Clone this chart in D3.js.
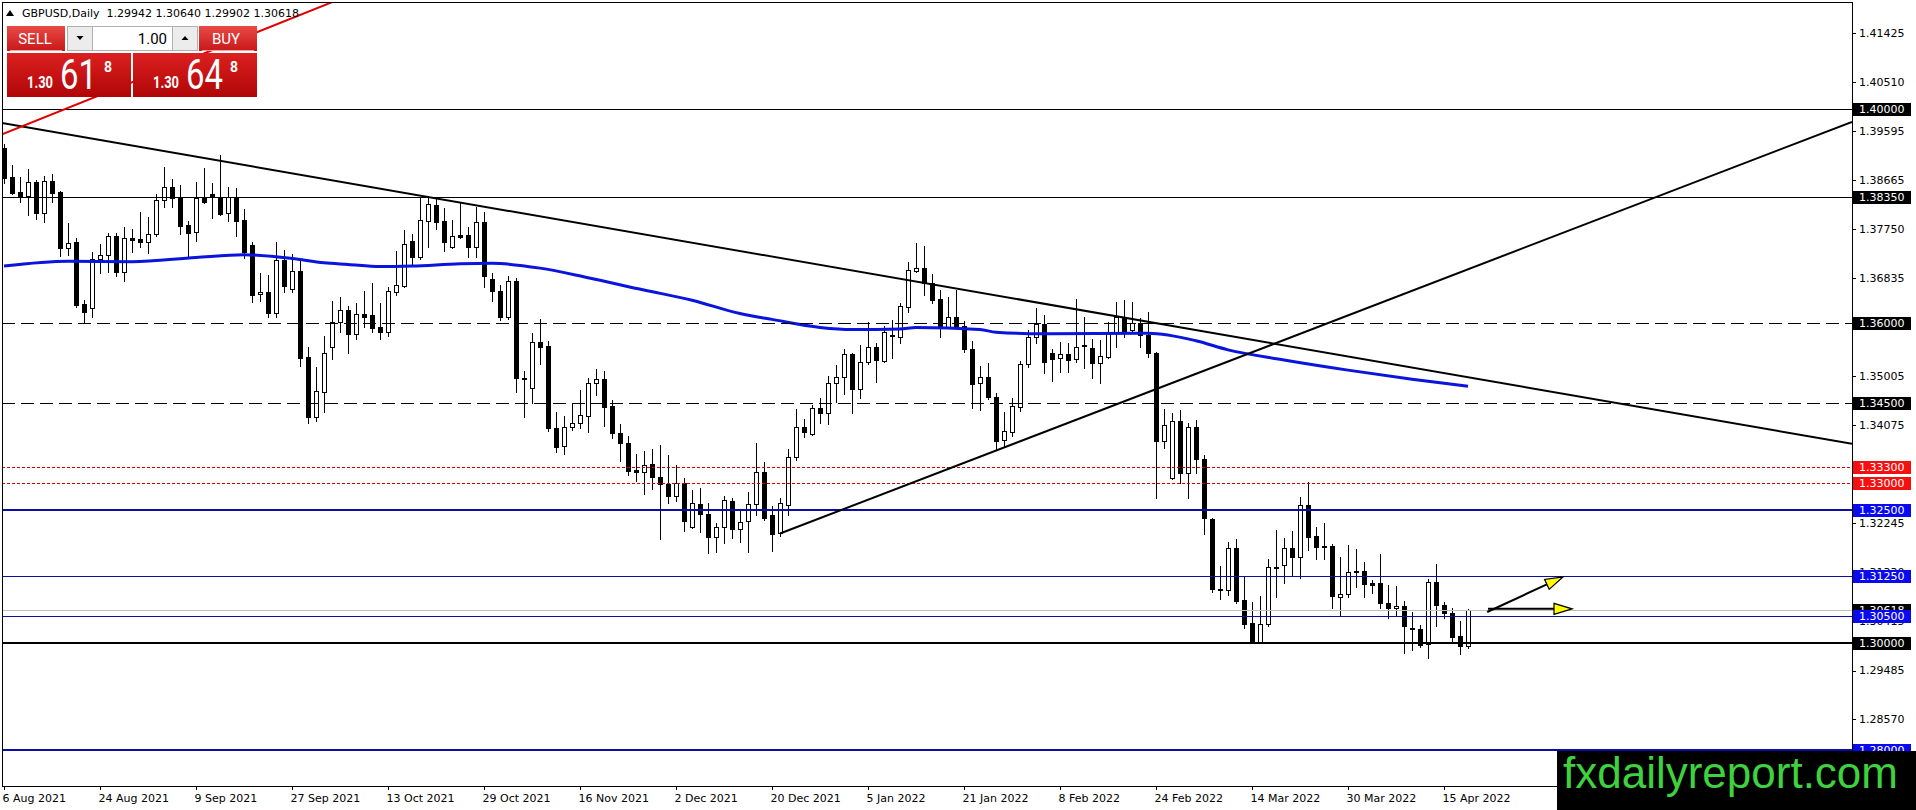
<!DOCTYPE html>
<html><head><meta charset="utf-8">
<script src="https://cdn.jsdelivr.net/npm/d3@7"></script>
<style>body{margin:0;background:#fff;overflow:hidden}svg{display:block}</style>
</head><body>
<svg id="c" width="1916" height="810"></svg>
<script>
// ---------- DATA ----------
const dateLabels = ["6 Aug 2021","24 Aug 2021","9 Sep 2021","27 Sep 2021","13 Oct 2021","29 Oct 2021","16 Nov 2021","2 Dec 2021","20 Dec 2021","5 Jan 2022","21 Jan 2022","8 Feb 2022","24 Feb 2022","14 Mar 2022","30 Mar 2022","15 Apr 2022"];
const dateLabelBars = [0,12,24,36,48,60,72,84,96,108,120,132,144,156,168,180];

const open = [1.3927,1.3873,1.3845,1.3837,1.3863,1.3805,1.3865,1.3845,1.3740,1.3751,
1.3635,1.3627,1.3719,1.3727,1.3762,1.3695,1.3758,1.3757,1.3751,1.3766,
1.3830,1.3854,1.3833,1.3783,1.3770,1.3833,1.3841,1.3835,1.3805,1.3835,
1.3792,1.3745,1.3654,1.3657,1.3618,1.3717,1.3663,1.3697,1.3536,1.3423,
1.3470,1.3554,1.3601,1.3624,1.3579,1.3616,1.3614,1.3592,1.3582,1.3657,
1.3669,1.3753,1.3723,1.3790,1.3820,1.3790,1.3742,1.3764,1.3764,1.3742,
1.3788,1.3682,1.3659,1.3610,1.3678,1.3496,1.3478,1.3564,1.3556,1.3403,
1.3369,1.3404,1.3412,1.3425,1.3487,1.3494,1.3444,1.3393,1.3375,1.3324,
1.3320,1.3335,1.3311,1.3298,1.3275,1.3300,1.3217,1.3260,1.3242,1.3198,
1.3217,1.3266,1.3213,1.3228,1.3260,1.3320,1.3240,1.3206,1.3258,1.3348,
1.3404,1.3391,1.3440,1.3431,1.3487,1.3498,1.3541,1.3476,1.3526,1.3554,
1.3528,1.3577,1.3573,1.3629,1.3697,1.3702,1.3674,1.3644,1.3592,1.3610,
1.3594,1.3551,1.3487,1.3498,1.3461,1.3380,1.3395,1.3442,1.3522,1.3573,
1.3597,1.3543,1.3534,1.3541,1.3532,1.3558,1.3552,1.3524,1.3536,1.3581,
1.3610,1.3586,1.3599,1.3577,1.3543,1.3378,1.3309,1.3416,1.3318,1.3404,
1.3345,1.3232,1.3101,1.3099,1.3178,1.3081,1.3037,1.3002,1.3036,1.3142,
1.3146,1.3178,1.3161,1.3258,1.3200,1.3182,1.3182,1.3086,1.3092,1.3135,
1.3135,1.3112,1.3112,1.3075,1.3066,1.3069,1.3028,1.3026,1.2998,1.3114,
1.3071,1.3056,1.3013,1.29942];
const high = [1.3934,1.3895,1.3873,1.3888,1.3867,1.3875,1.3878,1.3846,1.3787,1.3758,
1.3642,1.3732,1.3747,1.3768,1.3768,1.3779,1.3775,1.3807,1.3798,1.3841,
1.3891,1.3869,1.3858,1.3790,1.3863,1.3890,1.3861,1.3914,1.3854,1.3852,
1.3813,1.3751,1.3693,1.3689,1.3751,1.3736,1.3728,1.3717,1.3554,1.3517,
1.3575,1.3640,1.3648,1.3631,1.3637,1.3659,1.3674,1.3637,1.3667,1.3734,
1.3773,1.3766,1.3835,1.3837,1.3833,1.3815,1.3792,1.3826,1.3779,1.3816,
1.3807,1.3693,1.3670,1.3687,1.3684,1.3509,1.3581,1.3607,1.3566,1.3433,
1.3425,1.3449,1.3474,1.3496,1.3513,1.3509,1.3455,1.3410,1.3388,1.3354,
1.3360,1.3363,1.3371,1.3352,1.3333,1.3309,1.3287,1.3290,1.3262,1.3225,
1.3275,1.3272,1.3249,1.3283,1.3375,1.3339,1.3257,1.3272,1.3363,1.3438,
1.3419,1.3446,1.3459,1.3500,1.3521,1.3551,1.3543,1.3558,1.3601,1.3562,
1.3594,1.3605,1.3637,1.3713,1.3749,1.3743,1.3691,1.3661,1.3648,1.3661,
1.3603,1.3566,1.3519,1.3524,1.3468,1.3433,1.3459,1.3528,1.3586,1.3627,
1.3614,1.3551,1.3564,1.3562,1.3644,1.3610,1.3569,1.3567,1.3601,1.3639,
1.3642,1.3639,1.3609,1.3620,1.3545,1.3438,1.3431,1.3436,1.3412,1.3418,
1.3352,1.3234,1.3144,1.3189,1.3195,1.3125,1.3077,1.3088,1.3157,1.3212,
1.3197,1.3210,1.3273,1.3301,1.3217,1.3225,1.3185,1.3161,1.3184,1.3176,
1.3152,1.3118,1.3167,1.3109,1.3107,1.3079,1.3058,1.3034,1.3120,1.3148,
1.3077,1.3066,1.3041,1.30640];
const low = [1.3861,1.3841,1.3826,1.3801,1.3794,1.3788,1.3826,1.3725,1.3727,1.3629,
1.3599,1.3610,1.3693,1.3695,1.3687,1.3678,1.3732,1.3742,1.3730,1.3762,
1.3816,1.3816,1.3766,1.3725,1.3753,1.3824,1.3796,1.3801,1.3790,1.3762,
1.3721,1.3639,1.3640,1.3610,1.3610,1.3657,1.3657,1.3519,1.3412,1.3416,
1.3433,1.3532,1.3582,1.3543,1.3569,1.3592,1.3582,1.3569,1.3575,1.3652,
1.3667,1.3708,1.3719,1.3742,1.3775,1.3734,1.3740,1.3758,1.3723,1.3723,
1.3667,1.3640,1.3605,1.3607,1.3470,1.3423,1.3449,1.3522,1.3397,1.3358,
1.3354,1.3399,1.3403,1.3395,1.3464,1.3406,1.3384,1.3341,1.3315,1.3303,
1.3279,1.3288,1.3195,1.3262,1.3266,1.3210,1.3215,1.3208,1.3169,1.3170,
1.3187,1.3197,1.3189,1.3170,1.3240,1.3230,1.3172,1.3200,1.3240,1.3343,
1.3386,1.3390,1.3412,1.3410,1.3451,1.3466,1.3431,1.3459,1.3522,1.3489,
1.3526,1.3534,1.3562,1.3620,1.3695,1.3652,1.3637,1.3573,1.3590,1.3590,
1.3545,1.3440,1.3436,1.3457,1.3361,1.3367,1.3388,1.3434,1.3517,1.3562,
1.3506,1.3491,1.3507,1.3507,1.3526,1.3515,1.3496,1.3487,1.3534,1.3554,
1.3573,1.3582,1.3554,1.3536,1.3272,1.3365,1.3307,1.3300,1.3272,1.3318,
1.3204,1.3095,1.3082,1.3090,1.3075,1.3028,1.3000,1.3000,1.3032,1.3086,
1.3112,1.3125,1.3122,1.3174,1.3157,1.3157,1.3066,1.3052,1.3086,1.3105,
1.3086,1.3094,1.3066,1.3047,1.3052,1.2981,1.2987,1.2993,1.2972,1.3032,
1.3047,1.3002,1.2979,1.29902];
const close = [1.3871,1.3843,1.3837,1.3863,1.3805,1.3865,1.3843,1.3740,1.3749,1.3633,
1.3620,1.3719,1.3727,1.3762,1.3695,1.3758,1.3755,1.3751,1.3766,1.3830,
1.3854,1.3833,1.3781,1.3768,1.3833,1.3826,1.3837,1.3803,1.3835,1.3790,
1.3732,1.3652,1.3657,1.3618,1.3717,1.3669,1.3697,1.3534,1.3423,1.3472,
1.3543,1.3601,1.3624,1.3579,1.3616,1.3610,1.3590,1.3582,1.3659,1.3670,
1.3747,1.3723,1.3792,1.3822,1.3788,1.3751,1.3762,1.3760,1.3742,1.3788,
1.3687,1.3659,1.3610,1.3678,1.3496,1.3494,1.3564,1.3554,1.3403,1.3367,
1.3404,1.3412,1.3427,1.3487,1.3494,1.3442,1.3393,1.3375,1.3322,1.3320,
1.3333,1.3311,1.3298,1.3275,1.3300,1.3228,1.3262,1.3242,1.3198,1.3217,
1.3268,1.3213,1.3227,1.3260,1.3320,1.3234,1.3204,1.3262,1.3348,1.3404,
1.3395,1.3440,1.3431,1.3487,1.3498,1.3541,1.3476,1.3526,1.3554,1.3530,
1.3582,1.3575,1.3631,1.3699,1.3702,1.3674,1.3642,1.3592,1.3610,1.3594,
1.3551,1.3485,1.3498,1.3461,1.3378,1.3397,1.3444,1.3522,1.3573,1.3597,
1.3526,1.3532,1.3541,1.3530,1.3554,1.3556,1.3524,1.3537,1.3581,1.3610,
1.3584,1.3599,1.3577,1.3543,1.3378,1.3408,1.3416,1.3318,1.3404,1.3345,
1.3234,1.3101,1.3099,1.3178,1.3079,1.3036,1.3002,1.3036,1.3142,1.3140,
1.3178,1.3161,1.3258,1.3198,1.3180,1.3180,1.3088,1.3092,1.3133,1.3133,
1.3110,1.3109,1.3075,1.3066,1.3069,1.3032,1.3026,1.2996,1.3114,1.3071,
1.3056,1.3011,1.2994,1.30618];

// moving average (bar index, value)
const maBars   = [0,8,16,24,30,36,40,43,47,51,57,61,67,73,80,86,92,96,102,106,112,114,122,124,130,143,149,153,160,168,176,183];
const maValues = [1.3706,1.3715,1.3714,1.3722,1.3727,1.3720,1.3712,1.3709,1.3705,1.3706,1.3710,1.3711,1.3702,1.3684,1.3661,1.3642,1.3617,1.3606,1.3591,1.3587,1.3588,1.3591,1.3587,1.3582,1.3579,1.3580,1.3566,1.3549,1.3530,1.3511,1.3494,1.3481];

const priceTicks = [1.41425,1.40510,1.39595,1.38665,1.37750,1.36835,1.35005,1.34075,1.32245,1.31330,1.30415,1.29485,1.28570];
const levelPrices = [1.40000,1.38350,1.36000,1.34500,1.33300,1.33000,1.32500,1.31250,1.30618,1.30500,1.30000,1.28000];
const levelKinds  = ["solid","solid","dash","dash","redDot","redDot","blueThick","blueThin","current","blueThin","blackThick","blueThick"];

// trend lines: [bar1, price1, bar2, price2]
const trendDown  = [0, 1.3973, 231, 1.3373];
const trendUp    = [97, 1.3205, 231, 1.3976];
const trendRed   = [-0.5, 1.3951, 39.5, 1.4191];
// arrows: [bar1, price1, bar2, price2]
const arrowUp    = [185.4, 1.3058, 194.9, 1.3124];
const arrowFlat  = [185.5, 1.3064, 196.0, 1.3064];

const header = "GBPUSD,Daily  1.29942 1.30640 1.29902 1.30618";
const sellBig = ["1.30","61","8"], buyBig = ["1.30","64","8"], lotText = "1.00";

// ---------- DRAW ----------
const svg = d3.select("#c");
const L = 2, T = 3, R = 1852, B = 786;
const x = d3.scaleLinear().domain([0, 231]).range([4, 1852]);
const y = d3.scaleLinear().domain([1.4, 1.3]).range([109, 643]);
const AX = "DejaVu Sans, Verdana, sans-serif";

svg.append("rect").attr("width",1916).attr("height",810).attr("fill","#fff");
const defs = svg.append("defs");
defs.append("clipPath").attr("id","clip").append("rect").attr("x",L+0.5).attr("y",T).attr("width",R-L-0.5).attr("height",B-T);

const plot = svg.append("g").attr("clip-path","url(#clip)");

// candles
const N = close.length;
const bars = d3.range(N).map(i => ({i, o:open[i], h:high[i], l:low[i], c:close[i]}));
plot.append("g").selectAll("line").data(bars).join("line")
  .attr("x1", d => Math.round(x(d.i))+0.5).attr("x2", d => Math.round(x(d.i))+0.5)
  .attr("y1", d => Math.round(y(d.h))).attr("y2", d => Math.round(y(d.l))+1)
  .attr("stroke","#000").attr("stroke-width",1);
plot.append("g").selectAll("rect").data(bars).join("rect")
  .each(function(d){
    const cx = Math.round(x(d.i));
    const top = Math.round(y(Math.max(d.o,d.c))), bot = Math.round(y(Math.min(d.o,d.c)));
    const s = d3.select(this);
    if (d.c >= d.o) {
      s.attr("x",cx-1.5).attr("y",top+0.5).attr("width",4).attr("height",Math.max(0,bot-top))
       .attr("fill","#fff").attr("stroke","#000").attr("stroke-width",1);
    } else {
      s.attr("x",cx-2).attr("y",top).attr("width",5).attr("height",Math.max(1,bot-top+1)).attr("fill","#000");
    }
  });

// moving average
const maPts = maBars.map((b,k)=>({b, v:maValues[k]}));
plot.append("path").datum(maPts)
  .attr("d", d3.line().x(d=>x(d.b)).y(d=>y(d.v)).curve(d3.curveMonotoneX))
  .attr("fill","none").attr("stroke","#0a14dc").attr("stroke-width",3);

// horizontal levels
const styles = {
  solid:{c:"#000",w:1,d:null,bg:"#000"},
  dash:{c:"#000",w:1,d:"13,6",bg:"#000"},
  redDot:{c:"#d00000",w:1,d:"3,2",bg:"#f51010"},
  blueThick:{c:"#0c0ca8",w:2,d:null,bg:"#0a0af0"},
  blueThin:{c:"#0c0ca8",w:1,d:null,bg:"#0a0af0"},
  current:{c:"#c0c0c0",w:1,d:null,bg:"#000"},
  blackThick:{c:"#000",w:2,d:null,bg:"#000"}
};
const levels = levelPrices.map((p,k)=>({p, s:styles[levelKinds[k]]}));
plot.append("g").selectAll("line").data(levels).join("line")
  .attr("x1",L).attr("x2",R)
  .attr("y1",d=> d.s.w===1 ? Math.round(y(d.p))+0.5 : Math.round(y(d.p)))
  .attr("y2",d=> d.s.w===1 ? Math.round(y(d.p))+0.5 : Math.round(y(d.p)))
  .attr("stroke",d=>d.s.c).attr("stroke-width",d=>d.s.w)
  .attr("stroke-dasharray",d=>d.s.d);

// trend lines
function extLine(t, leftExtend){
  const X1=x(t[0]),Y1=y(t[1]),X2=x(t[2]),Y2=y(t[3]);
  const m=(Y2-Y1)/(X2-X1);
  const xa = leftExtend ? L : X1, xb = R;
  return [[xa, Y1+m*(xa-X1)],[xb, Y1+m*(xb-X1)]];
}
const segs = [
  {p:extLine(trendDown,true), c:"#000", w:2},
  {p:extLine(trendUp,false), c:"#000", w:2},
  {p:extLine(trendRed,true), c:"#e00000", w:2}
];
plot.append("g").selectAll("line").data(segs).join("line")
  .attr("x1",d=>d.p[0][0]).attr("y1",d=>d.p[0][1]).attr("x2",d=>d.p[1][0]).attr("y2",d=>d.p[1][1])
  .attr("stroke",d=>d.c).attr("stroke-width",d=>d.w);

// arrows
function drawArrow(a){
  const X1=x(a[0]),Y1=y(a[1]),X2=x(a[2]),Y2=y(a[3]);
  const ang=Math.atan2(Y2-Y1,X2-X1), len=18, hw=5.5;
  const bx=X2-len*Math.cos(ang), by=Y2-len*Math.sin(ang);
  plot.append("line").attr("x1",X1).attr("y1",Y1).attr("x2",bx).attr("y2",by).attr("stroke","#000").attr("stroke-width",2);
  const px=-Math.sin(ang)*hw, py=Math.cos(ang)*hw;
  plot.append("path").attr("d",`M${X2},${Y2}L${bx+px},${by+py}L${bx-px},${by-py}Z`)
    .attr("fill","#ffff00").attr("stroke","#000").attr("stroke-width",1.2).attr("stroke-linejoin","miter");
}
drawArrow(arrowUp); drawArrow(arrowFlat);

// frame
svg.append("rect").attr("x",L+0.5).attr("y",T-0.5).attr("width",R-L).attr("height",B-T+1)
  .attr("fill","none").attr("stroke","#000").attr("stroke-width",1);

// price axis ticks + labels
const ay = svg.append("g");
ay.selectAll("line").data(priceTicks).join("line")
  .attr("x1",R).attr("x2",R+4).attr("y1",d=>Math.round(y(d))+0.5).attr("y2",d=>Math.round(y(d))+0.5)
  .attr("stroke","#000");
ay.selectAll("text").data(priceTicks).join("text")
  .attr("x",R+7).attr("y",d=>y(d)).attr("dy","0.36em")
  .attr("font-family",AX).attr("font-size",11).attr("fill","#000")
  .text(d=>d.toFixed(5));

// level labels
const lg = svg.append("g");
levels.forEach(d=>{
  const yy=Math.round(y(d.p));
  lg.append("rect").attr("x",R+1).attr("y",yy-6).attr("width",58).attr("height",13).attr("fill",d.s.bg);
  lg.append("text").attr("x",R+7).attr("y",yy).attr("dy","0.36em")
    .attr("font-family",AX).attr("font-size",11).attr("fill","#fff").text(d.p.toFixed(5));
});

// date axis
const ax = svg.append("g");
ax.selectAll("line").data(dateLabelBars).join("line")
  .attr("x1",d=>Math.round(x(d))+0.5).attr("x2",d=>Math.round(x(d))+0.5)
  .attr("y1",B).attr("y2",B+4).attr("stroke","#000");
ax.selectAll("text").data(dateLabelBars).join("text")
  .attr("x",d=>x(d)-1.5).attr("y",802)
  .attr("font-family",AX).attr("font-size",11).attr("fill","#000")
  .text((d,k)=>dateLabels[k]);

// watermark box
svg.append("rect").attr("x",1557).attr("y",751).attr("width",359).attr("height",59).attr("fill","#000");
svg.append("text").attr("x",1898).attr("y",788).attr("text-anchor","end")
  .attr("font-family","Liberation Sans, Arial, sans-serif").attr("font-size",44).attr("fill","#3fd23f")
  .text("fxdailyreport.com");

// header
svg.append("path").attr("d","M6,16L10,10L14,16Z").attr("fill","#000");
svg.append("text").attr("x",22).attr("y",17).attr("font-family",AX).attr("font-size",11).attr("fill","#000")
  .attr("xml:space","preserve").style("white-space","pre").text(header);

// one-click panel
const g1 = defs.append("linearGradient").attr("id","rs").attr("x1",0).attr("y1",0).attr("x2",0).attr("y2",1);
g1.append("stop").attr("offset","0").attr("stop-color","#e84a46");
g1.append("stop").attr("offset","1").attr("stop-color","#c8181a");
const g2 = defs.append("linearGradient").attr("id","rb").attr("x1",0).attr("y1",0).attr("x2",0).attr("y2",1);
g2.append("stop").attr("offset","0").attr("stop-color","#dc2020");
g2.append("stop").attr("offset","1").attr("stop-color","#b00608");
const P = svg.append("g");
const BF = "Roboto, 'Open Sans', sans-serif";
P.append("rect").attr("x",7).attr("y",26).attr("width",58).attr("height",25).attr("fill","url(#rs)");
P.append("line").attr("x1",10).attr("x2",62).attr("y1",50.5).attr("y2",50.5).attr("stroke","#f4a0a0");
P.append("text").attr("x",35).attr("y",44).attr("text-anchor","middle").attr("font-family",BF).attr("font-size",15).attr("fill","#fff").text("SELL");
P.append("rect").attr("x",199).attr("y",26).attr("width",58).attr("height",25).attr("fill","url(#rs)");
P.append("line").attr("x1",202).attr("x2",254).attr("y1",50.5).attr("y2",50.5).attr("stroke","#f4a0a0");
P.append("text").attr("x",226).attr("y",44).attr("text-anchor","middle").attr("font-family",BF).attr("font-size",15).attr("fill","#fff").text("BUY");
P.append("rect").attr("x",67.5).attr("y",26.5).attr("width",25).attr("height",24).attr("fill","#ececec").attr("stroke","#b0b0b0");
P.append("path").attr("d","M76.5,36L83.5,36L80,40Z").attr("fill","#000");
P.append("rect").attr("x",92.5).attr("y",26.5).attr("width",80).attr("height",24).attr("fill","#fff").attr("stroke","#b0b0b0");
P.append("text").attr("x",167).attr("y",44).attr("text-anchor","end").attr("font-family",BF).attr("font-size",15).attr("fill","#000").text(lotText);
P.append("rect").attr("x",172.5).attr("y",26.5).attr("width",25).attr("height",24).attr("fill","#ececec").attr("stroke","#b0b0b0");
P.append("path").attr("d","M181.5,40L188.5,40L185,36Z").attr("fill","#000");
[[7,sellBig],[133,buyBig]].forEach(([bx,t])=>{
  P.append("rect").attr("x",bx).attr("y",53).attr("width",124).attr("height",44).attr("fill","url(#rb)");
  P.append("text").attr("x",bx+20).attr("y",88).attr("font-family",BF).attr("font-weight","bold").attr("font-size",16)
    .attr("textLength",26).attr("lengthAdjust","spacingAndGlyphs").attr("fill","#fff").text(t[0]);
  P.append("text").attr("x",bx+53).attr("y",88.5).attr("font-family",BF).attr("font-size",43)
    .attr("textLength",37).attr("lengthAdjust","spacingAndGlyphs").attr("fill","#fff").text(t[1]);
  P.append("text").attr("x",bx+97).attr("y",72).attr("font-family",BF).attr("font-weight","bold").attr("font-size",14).attr("fill","#fff").text(t[2]);
});
</script>
</body></html>
